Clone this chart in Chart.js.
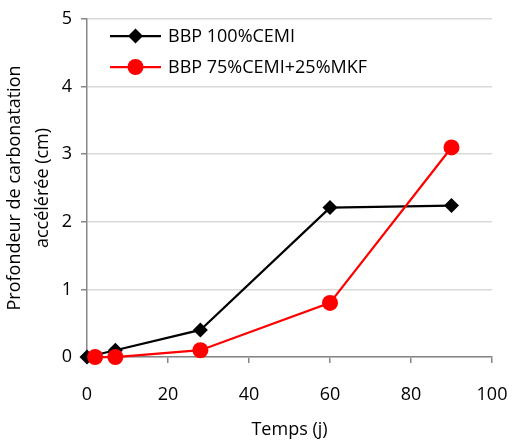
<!DOCTYPE html>
<html><head><meta charset="utf-8">
<script src="https://cdn.jsdelivr.net/npm/chart.js@4/dist/chart.umd.min.js"></script>
<style>html,body{margin:0;padding:0;background:#fff}#wrap{width:515px;height:441px}</style>
</head><body><div id="wrap"><canvas id="c" width="515" height="441"></canvas></div>
<script>
const seriesNames = ["BBP 100%CEMI", "BBP 75%CEMI+25%MKF"];
const timeBlack = [0, 7, 28, 60, 90];
const depthBlack = [0, 0.1, 0.4, 2.21, 2.24];
const timeRed = [2, 7, 28, 60, 90];
const depthRed = [0, 0, 0.1, 0.8, 3.1];
const xTicks = [0, 20, 40, 60, 80, 100];
const yTicks = [0, 1, 2, 3, 4, 5];
const xTitle = "Temps (j)";
const yTitle = ["Profondeur de carbonatation", "accélérée (cm)"];

const FONT = "'Open Sans', sans-serif";
const toPts = (xs, ys) => xs.map((x, i) => ({x: x, y: ys[i]}));

const legendPlugin = {
  id: 'inlineLegend',
  afterDraw(chart) {
    const ctx = chart.ctx;
    const items = chart.data.datasets;
    const x0 = 110, x1 = 161, tx = 168, ys = [36, 67];
    items.forEach((ds, i) => {
      const y = ys[i];
      const cx = (x0 + x1) / 2;
      ctx.save();
      ctx.strokeStyle = ds.borderColor;
      ctx.lineWidth = ds.borderWidth;
      ctx.beginPath(); ctx.moveTo(x0, y); ctx.lineTo(x1, y); ctx.stroke();
      ctx.fillStyle = ds.pointBackgroundColor;
      ctx.beginPath();
      if (ds.pointStyle === 'circle') { ctx.arc(cx, y, ds.pointRadius, 0, Math.PI * 2); }
      else { const r = ds.pointRadius; ctx.moveTo(cx, y - r); ctx.lineTo(cx + r, y); ctx.lineTo(cx, y + r); ctx.lineTo(cx - r, y); ctx.closePath(); }
      ctx.fill();
      ctx.fillStyle = '#000';
      ctx.font = "18px " + FONT;
      ctx.textBaseline = 'middle';
      ctx.textAlign = 'left';
      ctx.fillText(seriesNames[i], tx, y + 1);
      ctx.restore();
    });
  }
};

new Chart(document.getElementById('c'), {
  type: 'scatter',
  data: {
    datasets: [
      {label: seriesNames[0], data: toPts(timeBlack, depthBlack), showLine: true, order: 2, clip: false, borderColor: '#000', backgroundColor: '#000', pointBackgroundColor: '#000', borderWidth: 2.25, pointStyle: 'rectRot', pointRadius: 7.5, pointBorderWidth: 0},
      {label: seriesNames[1], data: toPts(timeRed, depthRed), showLine: true, order: 1, clip: false, borderColor: '#ff0000', backgroundColor: '#ff0000', pointBackgroundColor: '#ff0000', borderWidth: 2.25, pointStyle: 'circle', pointRadius: 8, pointBorderWidth: 0}
    ]
  },
  options: {
    responsive: false,
    animation: false,
    events: [],
    layout: {padding: {left: 0, right: 23, top: 19, bottom: 0}},
    plugins: {legend: {display: false}, tooltip: {enabled: false}},
    scales: {
      x: {
        type: 'linear', min: 0, max: 100,
        afterBuildTicks: s => { s.ticks = xTicks.map(v => ({value: v})); },
        afterFit: s => { s.height = 84; s.paddingLeft = 0; s.paddingRight = 0; },
        border: {color: '#868686', width: 1.5},
        grid: {drawOnChartArea: false, drawTicks: true, tickLength: 6, tickColor: '#868686', lineWidth: 1.5},
        ticks: {color: '#000', font: {family: FONT, size: 18}, padding: 21, maxRotation: 0},
        title: {display: true, text: xTitle, color: '#000', font: {family: FONT, size: 18}, padding: {top: 0, bottom: 0}}
      },
      y: {
        type: 'linear', min: 0, max: 5,
        afterBuildTicks: s => { s.ticks = yTicks.map(v => ({value: v})); },
        afterFit: s => { s.width = 87; s.paddingTop = 0; s.paddingBottom = 0; },
        border: {color: '#868686', width: 1.5},
        grid: {color: '#d9d9d9', lineWidth: 1.5, drawTicks: true, tickLength: 6, tickColor: '#868686'},
        ticks: {color: '#000', font: {family: FONT, size: 18}, padding: 9},
        title: {display: true, text: yTitle, color: '#000', font: {family: FONT, size: 18, lineHeight: 1.6}, padding: {top: 0, bottom: 0}}
      }
    }
  },
  plugins: [legendPlugin]
});
</script></body></html>
